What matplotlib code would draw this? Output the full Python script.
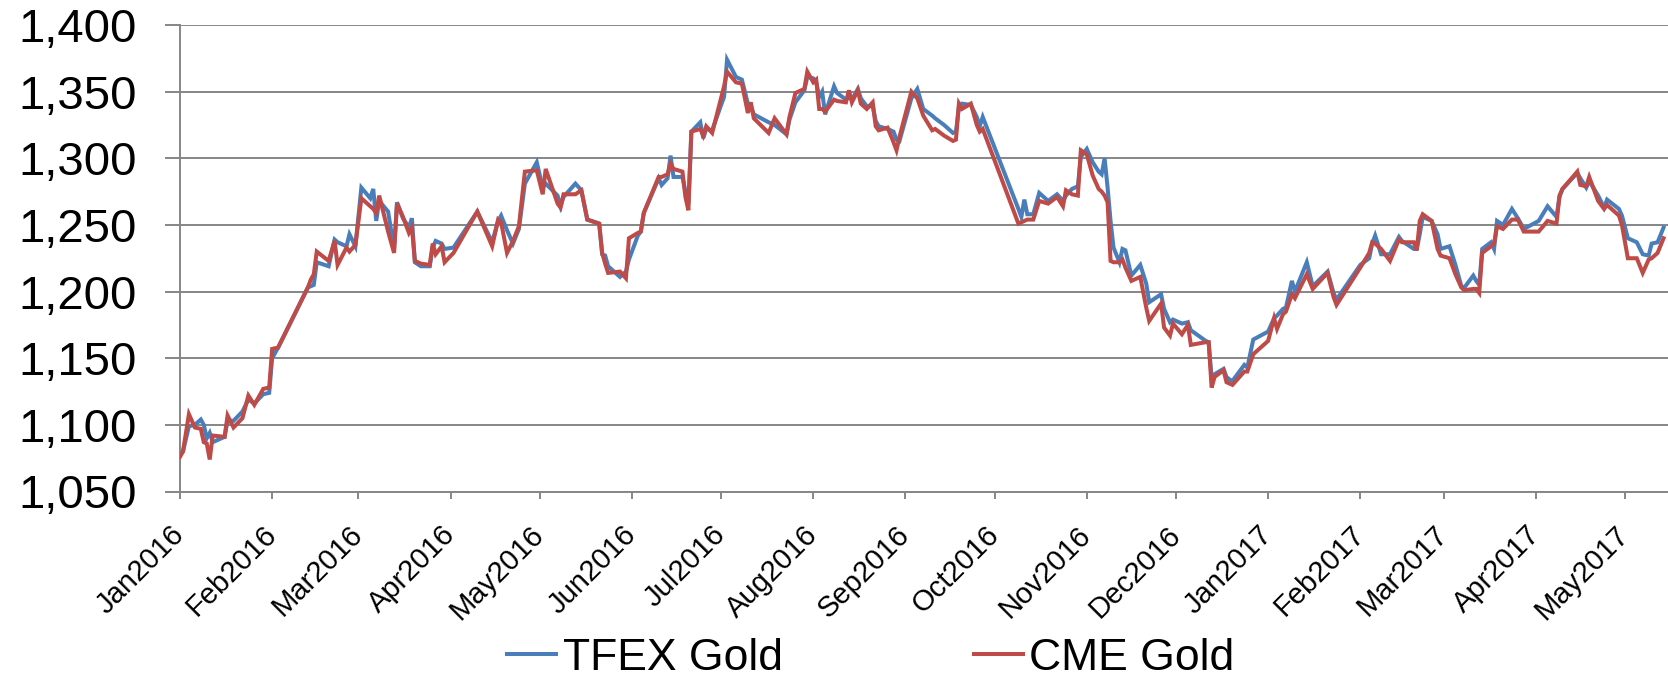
import matplotlib
matplotlib.use("Agg")
import matplotlib.pyplot as plt
import matplotlib.dates as mdates
import pandas as pd

dates = [
    "2016-01-01","2016-01-02","2016-01-04","2016-01-06","2016-01-08","2016-01-09","2016-01-10","2016-01-11","2016-01-12","2016-01-16",
    "2016-01-17","2016-01-19","2016-01-22","2016-01-24","2016-01-26","2016-01-29","2016-01-31","2016-02-01","2016-02-03","2016-02-13",
    "2016-02-14","2016-02-15","2016-02-16","2016-02-20","2016-02-22","2016-02-23","2016-02-26","2016-02-27","2016-02-29","2016-03-02",
    "2016-03-05","2016-03-06","2016-03-07","2016-03-08","2016-03-11","2016-03-13","2016-03-14","2016-03-16","2016-03-18","2016-03-19",
    "2016-03-20","2016-03-22","2016-03-25","2016-03-26","2016-03-27","2016-03-29","2016-03-30","2016-04-02","2016-04-10","2016-04-15",
    "2016-04-17","2016-04-18","2016-04-20","2016-04-22","2016-04-24","2016-04-26","2016-04-30","2016-05-02","2016-05-03","2016-05-07",
    "2016-05-08","2016-05-09","2016-05-13","2016-05-15","2016-05-17","2016-05-21","2016-05-22","2016-05-23","2016-05-24","2016-05-28",
    "2016-05-30","2016-05-31","2016-06-03","2016-06-04","2016-06-05","2016-06-10","2016-06-11","2016-06-13","2016-06-14","2016-06-15",
    "2016-06-18","2016-06-19","2016-06-20","2016-06-21","2016-06-24","2016-06-25","2016-06-26","2016-06-28","2016-07-01","2016-07-02",
    "2016-07-03","2016-07-06","2016-07-08","2016-07-10","2016-07-11","2016-07-12","2016-07-17","2016-07-19","2016-07-23","2016-07-24",
    "2016-07-26","2016-07-29","2016-07-30","2016-08-01","2016-08-02","2016-08-03","2016-08-04","2016-08-05","2016-08-08","2016-08-09",
    "2016-08-12","2016-08-13","2016-08-14","2016-08-16","2016-08-17","2016-08-19","2016-08-21","2016-08-22","2016-08-23","2016-08-26",
    "2016-08-28","2016-08-29","2016-08-30","2016-09-03","2016-09-05","2016-09-07","2016-09-10","2016-09-11","2016-09-14","2016-09-17",
    "2016-09-18","2016-09-19","2016-09-20","2016-09-23","2016-09-25","2016-09-26","2016-09-27","2016-10-09","2016-10-10","2016-10-11",
    "2016-10-12","2016-10-14","2016-10-16","2016-10-19","2016-10-22","2016-10-24","2016-10-25","2016-10-27","2016-10-29","2016-10-30",
    "2016-11-01","2016-11-03","2016-11-05","2016-11-06","2016-11-07","2016-11-08","2016-11-09","2016-11-10","2016-11-12","2016-11-13",
    "2016-11-14","2016-11-16","2016-11-19","2016-11-21","2016-11-22","2016-11-26","2016-11-27","2016-11-29","2016-11-30","2016-12-03",
    "2016-12-05","2016-12-06","2016-12-11","2016-12-12","2016-12-13","2016-12-14","2016-12-17","2016-12-18","2016-12-19","2016-12-20",
    "2016-12-24","2016-12-25","2016-12-27","2017-01-01","2017-01-03","2017-01-04","2017-01-06","2017-01-07","2017-01-09","2017-01-10",
    "2017-01-14","2017-01-16","2017-01-21","2017-01-23","2017-01-24","2017-02-01","2017-02-04","2017-02-05","2017-02-06","2017-02-08",
    "2017-02-11","2017-02-14","2017-02-15","2017-02-19","2017-02-20","2017-02-21","2017-02-22","2017-02-25","2017-02-27","2017-02-28",
    "2017-03-03","2017-03-05","2017-03-07","2017-03-08","2017-03-11","2017-03-12","2017-03-13","2017-03-14","2017-03-17","2017-03-18",
    "2017-03-19","2017-03-21","2017-03-24","2017-03-26","2017-03-28","2017-04-02","2017-04-05","2017-04-08","2017-04-09","2017-04-10",
    "2017-04-15","2017-04-16","2017-04-18","2017-04-19","2017-04-22","2017-04-24","2017-04-25","2017-04-29","2017-04-30","2017-05-02",
    "2017-05-05","2017-05-07","2017-05-09","2017-05-10","2017-05-12","2017-05-14",
]

tfex_gold = [
    1078,1080,1099,1100,1104,1100,1090,1094,1087,1091,
    1103,1103,1110,1119,1116,1123,1124,1150,1158,1203,
    1204,1205,1222,1219,1239,1237,1234,1243,1234,1278,
    1270,1277,1253,1268,1260,1232,1267,1255,1248,1255,
    1222,1219,1219,1233,1238,1236,1232,1233,1260,1237,
    1253,1257,1246,1236,1247,1281,1297,1278,1281,1272,
    1264,1271,1281,1276,1254,1251,1228,1227,1219,1211,
    1215,1224,1242,1245,1259,1285,1280,1285,1302,1286,
    1286,1275,1266,1320,1327,1315,1322,1321,1340,1346,
    1374,1361,1359,1341,1339,1333,1327,1325,1318,1329,
    1342,1351,1361,1360,1357,1346,1350,1333,1354,1349,
    1344,1346,1344,1352,1345,1339,1339,1328,1324,1322,
    1320,1314,1313,1345,1352,1337,1332,1330,1325,1319,
    1320,1339,1341,1340,1331,1324,1331,1262,1256,1269,
    1258,1258,1274,1268,1273,1268,1272,1277,1279,1301,
    1307,1297,1290,1288,1300,1278,1253,1233,1222,1232,
    1231,1212,1220,1206,1192,1198,1187,1177,1179,1176,
    1177,1171,1163,1162,1135,1138,1142,1136,1134,1133,
    1145,1143,1164,1170,1180,1182,1187,1188,1208,1200,
    1222,1204,1215,1199,1194,1220,1225,1236,1242,1228,
    1228,1241,1238,1232,1232,1243,1256,1253,1243,1232,
    1234,1220,1204,1203,1212,1208,1205,1232,1237,1232,
    1253,1250,1262,1255,1247,1253,1264,1256,1271,1277,
    1289,1285,1278,1283,1272,1263,1269,1262,1257,1240,
    1237,1228,1227,1236,1237,1248,
]

cme_gold = [
    1076,1080,1108,1098,1097,1087,1086,1074,1092,1091,
    1107,1098,1105,1122,1115,1127,1128,1157,1158,1203,
    1209,1213,1230,1223,1238,1220,1233,1230,1235,1270,
    1264,1262,1259,1272,1245,1229,1266,1256,1244,1248,
    1223,1221,1220,1236,1228,1234,1222,1229,1260,1234,
    1254,1252,1229,1238,1249,1290,1291,1273,1292,1266,
    1263,1273,1273,1276,1254,1251,1229,1221,1214,1215,
    1210,1240,1244,1245,1259,1286,1286,1288,1296,1292,
    1290,1271,1261,1320,1322,1317,1324,1319,1345,1354,
    1365,1357,1356,1334,1342,1330,1319,1330,1318,1331,
    1349,1352,1365,1357,1359,1337,1337,1335,1344,1343,
    1342,1351,1342,1351,1341,1337,1342,1324,1321,1323,
    1312,1306,1316,1350,1345,1332,1321,1322,1317,1313,
    1314,1341,1337,1341,1325,1320,1322,1251,1252,1253,
    1254,1254,1268,1266,1271,1264,1276,1273,1272,1306,
    1303,1287,1277,1275,1272,1267,1223,1222,1222,1224,
    1218,1208,1211,1188,1178,1191,1173,1167,1176,1168,
    1175,1160,1162,1162,1128,1136,1141,1132,1131,1130,
    1140,1140,1153,1163,1180,1172,1183,1185,1198,1195,
    1213,1202,1214,1196,1190,1218,1229,1237,1236,1232,
    1223,1239,1237,1237,1231,1253,1258,1253,1232,1227,
    1225,1213,1203,1201,1202,1202,1199,1229,1234,1236,
    1249,1247,1254,1254,1245,1245,1253,1251,1272,1277,
    1290,1280,1279,1286,1268,1262,1265,1257,1250,1225,
    1225,1214,1224,1225,1229,1240,
]

y_ticks = [1050, 1100, 1150, 1200, 1250, 1300, 1350, 1400]
series_names = ["TFEX Gold", "CME Gold"]

plt.rcParams["font.family"] = ["Liberation Sans", "DejaVu Sans"]

x = pd.to_datetime(dates)
W, H = 1668, 680
fig = plt.figure(figsize=(W / 100, H / 100), dpi=100)
ax = fig.add_axes([180 / W, 1 - 491.5 / H, 1 - 180 / W, (491.5 - 25) / H])

blue = "#4A7EBB"
red = "#BE4B48"
grid_c = "#868686"

ax.plot(x, tfex_gold, color=blue, lw=2.9, label=series_names[0], solid_joinstyle="miter", zorder=3)
ax.plot(x, cme_gold, color=red, lw=2.9, label=series_names[1], solid_joinstyle="miter", zorder=4)

ax.set_ylim(1050, 1400)
ax.set_yticks(y_ticks)
ax.set_yticklabels([f"{v:,}" for v in y_ticks])
ax.set_xlim(pd.Timestamp("2016-01-01"), pd.Timestamp("2017-05-15 12:00"))
ax.xaxis.set_major_locator(mdates.MonthLocator())
ax.xaxis.set_major_formatter(mdates.DateFormatter("%b%Y"))

ax.grid(axis="y", color=grid_c, lw=1.4, zorder=1)
for s in ["top", "right"]:
    ax.spines[s].set_visible(False)
for s in ["left", "bottom"]:
    ax.spines[s].set_color(grid_c)
    ax.spines[s].set_linewidth(1.4)
    ax.spines[s].set_zorder(2)

ax.tick_params(axis="y", length=11, width=1.4, color=grid_c, pad=20, labelsize=34)
ax.tick_params(axis="x", length=5, width=1.4, color=grid_c, pad=23, labelsize=21)
for lab in ax.get_xticklabels():
    lab.set_rotation(45)
    lab.set_ha("right")
    lab.set_va("center")
    lab.set_rotation_mode("anchor")

fig.legend(loc="center", bbox_to_anchor=(871 / W, 1 - 658 / H), ncol=2, frameon=False,
           fontsize=32, handlelength=1.1, handletextpad=0.15, columnspacing=4.3,
           borderpad=0, borderaxespad=0)

fig.savefig("out.png", dpi=100)
